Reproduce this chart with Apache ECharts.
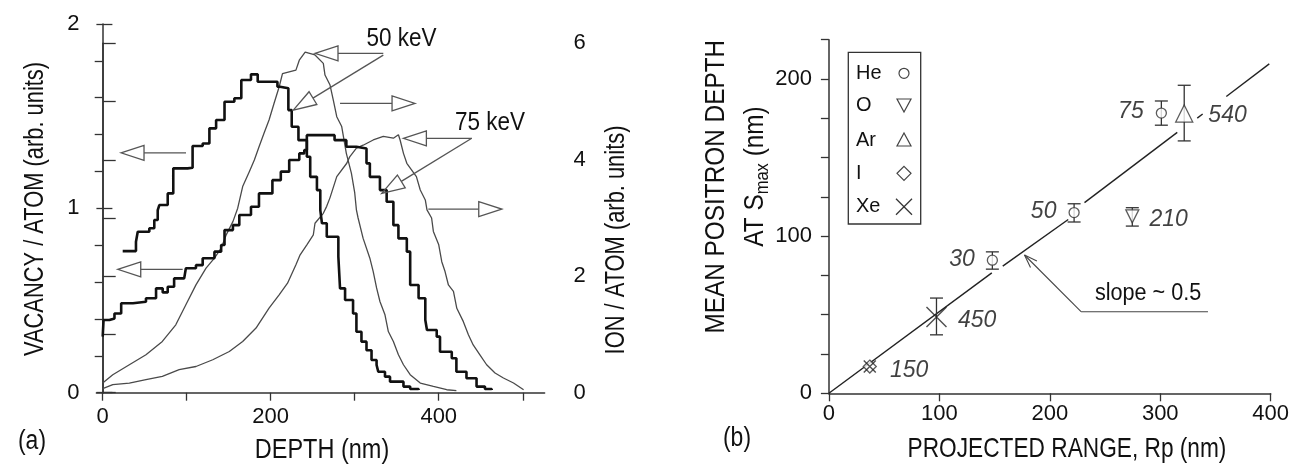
<!DOCTYPE html>
<html><head><meta charset="utf-8">
<script src="https://cdn.jsdelivr.net/npm/echarts@6/dist/echarts.min.js"></script>
<style>html,body{margin:0;padding:0;background:#fff}#c{width:1294px;height:468px}</style>
</head><body><div id="c"></div>
<script>
// ---------- Panel (a): depth profiles ----------
// vacancy / atom (left axis), [depth nm, value]
const vac50 = [[23.8,0.768],[33.7,0.768],[39.6,0.819],[41.7,0.873],[55.5,0.892],[61.4,0.937],[65.5,0.99],[67.4,1.018],[77.4,1.081],[84,1.217],[101,1.22],[107,1.338],[119,1.352],[127,1.434],[135,1.479],[145,1.578],[156.7,1.597],[165,1.696],[176.5,1.727],[184.5,1.687],[208,1.66],[211,1.651],[221,1.533],[225,1.443],[233,1.37],[243,1.28],[247,1.171],[255,1.099],[259,0.99],[261,0.919],[266.7,0.846],[280.5,0.738],[282.5,0.566],[288.5,0.503],[298,0.43],[302,0.331],[308,0.277],[314,0.23],[320,0.177],[326,0.15],[328,0.114],[336,0.087],[342,0.06],[358,0.033],[366,0.02],[376,0.015]];
const vac75 = [[0,0.304],[1,0.394],[8,0.403],[14,0.43],[22,0.485],[36,0.493],[51.5,0.512],[63.5,0.566],[71.4,0.544],[77.4,0.575],[85,0.62],[97,0.629],[99,0.675],[111,0.692],[119,0.729],[133,0.765],[141,0.801],[145,0.882],[155,0.909],[162.6,0.964],[176.5,1.009],[186,1.081],[202,1.153],[212,1.199],[222,1.262],[234,1.298],[240,1.316],[243,1.397],[273,1.397],[276,1.37],[290,1.334],[302,1.325],[314,1.244],[318,1.171],[330,1.099],[338,1.036],[346,0.909],[352,0.837],[362,0.765],[366,0.584],[376,0.512],[384,0.394],[386,0.34],[397.6,0.304],[401.5,0.222],[415.5,0.187],[421,0.114],[433,0.078],[445,0.033],[455,0.02],[463,0.015]];
// ion / atom (right axis)
const ion50 = [[0,0.166],[12,0.309],[31.7,0.48],[51.5,0.652],[71,0.88],[87,1.166],[99,1.51],[111,1.852],[123,2.139],[133,2.31],[141,2.482],[147,2.71],[155,2.938],[160.7,3.168],[166.6,3.54],[174.5,3.796],[180.5,3.997],[186,4.22],[192,4.455],[198,4.683],[204,4.97],[210,5.25],[214,5.48],[230,5.54],[234,5.71],[241,5.85],[252.7,5.8],[262.6,5.655],[264.6,5.455],[270.6,5.283],[274.5,5.026],[278.6,4.74],[284.5,4.57],[290,4.11],[296,3.77],[300,3.43],[302,3.14],[304,3.0],[310,2.65],[318,2.31],[322,2.08],[326,1.8],[330,1.566],[336,1.338],[340,1.05],[346,0.88],[352,0.652],[358,0.48],[366,0.309],[378,0.166],[393.6,0.108],[409.5,0.051],[421,0.034]];
const ion75 = [[0,0.069],[12,0.137],[31.7,0.166],[51.5,0.223],[71,0.28],[91,0.395],[111,0.45],[131,0.566],[150.7,0.708],[166.6,0.88],[182.5,1.11],[198,1.453],[210,1.68],[220,1.88],[230,2.196],[235,2.367],[243,2.54],[250.7,2.71],[252.7,2.91],[262.6,3.08],[266.6,3.2],[270.6,3.35],[278.6,3.71],[290.5,3.94],[294,4.05],[302,4.2],[310,4.25],[322,4.34],[334,4.4],[346,4.37],[352,4.43],[354,4.34],[358,4.11],[362,3.94],[373.4,3.71],[378,3.48],[384,3.31],[386,3.14],[391.5,3.0],[393.6,2.77],[400,2.54],[403.6,2.25],[407.5,2.08],[411.5,1.85],[417.5,1.74],[421.5,1.45],[429.3,1.22],[435.3,0.995],[441,0.82],[449,0.65],[457,0.48],[467,0.338],[477,0.252],[489,0.166],[501,0.051]];
const depthTicks = [0,100,200,300,400,500];
const depthLabels = [0,200,400];
const vacMinorTicks = [0.2,0.4,0.6,0.8,1.2,1.4,1.6,1.8];
const vacMajorTicks = [0,1,2];
const ionTicks = [0,1,2,3,4,5,6];
const ionLabels = [0,2,4,6];

// ---------- Panel (b): mean positron depth vs projected range ----------
const heData = [[148,84.7],[222,115],[301,178.3]];
const heErr  = [[148,79,90],[222,109,120.6],[301,170.6,186]];
const heLabels = ['30','50','75'];
const oData = [[274.7,112.6]];
const oErr  = [[274.7,106.4,118.1]];
const oLabels = ['210'];
const arData = [[321.7,178]];
const arErr  = [[321.7,160.6,196]];
const arLabels = ['540'];
const iData = [[37,17]];
const iLabels = ['150'];
const xeData = [[37,17],[97.4,48.5]];
const xeErr  = [[97.4,37.2,60.6]];
const xeLabels = ['','450'];
const fitSegments = [
  [[0,0],[147.5,76.6]],
  [[157.4,80.9],[216.7,110.6]],
  [[231.4,121.3],[315.4,166]],
  [[333.5,175.1],[338.4,177.7]],
  [[359.8,188.9],[398.7,209.6]]
];
const rangeTicks = [0,100,200,300,400];
const mpdTicks = [0,25,50,75,100,125,150,175,200,225];
const mpdLabels = [0,100,200];
const legendNames = ['He','O','Ar','I','Xe'];

const FONT = "'Liberation Sans', Arial, sans-serif";
const AX = '#333', INK = '#111', THIN = '#4a4a4a';
const chart = echarts.init(document.getElementById('c'), null, {width:1294, height:468});

function errRender(params, api){
  const x=api.value(0), lo=api.value(1), hi=api.value(2);
  const a=api.coord([x,lo]), b=api.coord([x,hi]), w=6.5;
  const st={stroke:'#333', lineWidth:1.3};
  return {type:'group', children:[
    {type:'line', shape:{x1:a[0],y1:a[1],x2:b[0],y2:b[1]}, style:st},
    {type:'line', shape:{x1:a[0]-w,y1:a[1],x2:a[0]+w,y2:a[1]}, style:st},
    {type:'line', shape:{x1:b[0]-w,y1:b[1],x2:b[0]+w,y2:b[1]}, style:st}
  ]};
}
const ptLabel = (arr, pos, dist, off) => ({show:true, position:pos, distance:dist, offset:off||[0,0],
  formatter:p=>arr[p.dataIndex], color:INK, fontFamily:FONT, fontSize:23, fontStyle:'italic'});

const series = [
  {type:'line', xAxisIndex:0, yAxisIndex:0, data:vac50, step:'end', showSymbol:false, lineStyle:{color:INK,width:2.6}, z:3},
  {type:'line', xAxisIndex:0, yAxisIndex:0, data:vac75, step:'end', showSymbol:false, lineStyle:{color:INK,width:2.6}, z:3},
  {type:'line', xAxisIndex:1, yAxisIndex:2, data:ion50, showSymbol:false, lineStyle:{color:THIN,width:1.3}, z:2},
  {type:'line', xAxisIndex:1, yAxisIndex:2, data:ion75, showSymbol:false, lineStyle:{color:THIN,width:1.3}, z:2},
  ...fitSegments.map(seg=>({type:'line', xAxisIndex:2, yAxisIndex:3, data:seg, showSymbol:false, lineStyle:{color:'#222',width:1.4}, z:1})),
  {type:'custom', xAxisIndex:2, yAxisIndex:3, data:[...heErr,...oErr,...arErr,...xeErr], renderItem:errRender, z:2},
  {type:'scatter', name:'He', xAxisIndex:2, yAxisIndex:3, data:heData, symbol:'circle', symbolSize:10,
    itemStyle:{color:'#fff', borderColor:'#333', borderWidth:1.3}, label:ptLabel(heLabels,'left',12,[0,-1]), z:5},
  {type:'scatter', name:'O', xAxisIndex:2, yAxisIndex:3, data:oData, symbol:'triangle', symbolRotate:180, symbolSize:[13,13],
    itemStyle:{color:'#fff', borderColor:'#333', borderWidth:1.3}, label:ptLabel(oLabels,'right',10,[0,3]), z:5},
  {type:'scatter', name:'Ar', xAxisIndex:2, yAxisIndex:3, data:arData, symbol:'triangle', symbolSize:[17,17],
    itemStyle:{color:'#fff', borderColor:'#333', borderWidth:1.3}, label:ptLabel(arLabels,'right',15,[0,2]), z:5},
  {type:'scatter', name:'I', xAxisIndex:2, yAxisIndex:3, data:iData, symbol:'diamond', symbolSize:[13,13],
    itemStyle:{color:'#fff', borderColor:'#333', borderWidth:1.3}, label:ptLabel(iLabels,'right',13,[0,4]), z:5},
  {type:'scatter', name:'Xe', xAxisIndex:2, yAxisIndex:3, data:xeData, symbol:'path://M0,0L10,10M10,0L0,10',
    symbolSize:(v,p)=>p.dataIndex===0?12:20,
    itemStyle:{color:'none', borderColor:'#222', borderWidth:1.4}, label:ptLabel(xeLabels,'right',9,[0,4]), z:6}
];

const tickLbl = (vals, margin) => ({show:true, customValues:vals, margin:margin, color:INK, fontFamily:FONT, fontSize:22});
const option = {
  animation:false,
  backgroundColor:'#fff',
  grid:[
    {left:96.4, top:24, width:448.2, height:368.7},
    {left:96.4, top:43.3, width:448.2, height:349.4},
    {left:828.9, top:39.7, width:441.8, height:353.6}
  ],
  xAxis:[
    {type:'value', gridIndex:0, min:-7.5, max:526, axisLine:{onZero:false, lineStyle:{color:AX,width:1.5}},
      axisTick:{customValues:depthTicks, length:8, lineStyle:{color:AX,width:1.3}}, axisLabel:tickLbl(depthLabels,13), splitLine:{show:false}},
    {type:'value', gridIndex:1, min:-7.5, max:526, show:false},
    {type:'value', gridIndex:2, min:0, max:400, axisLine:{onZero:false, lineStyle:{color:AX,width:1.5}},
      axisTick:{customValues:rangeTicks, length:8, lineStyle:{color:AX,width:1.3}}, axisLabel:tickLbl(rangeTicks,10), splitLine:{show:false}}
  ],
  yAxis:[
    {type:'value', gridIndex:0, min:0, max:2, position:'left', axisLine:{show:true, lineStyle:{color:AX,width:1.5}},
      axisTick:{customValues:vacMinorTicks, length:8, lineStyle:{color:AX,width:1.3}}, axisLabel:{show:false}, splitLine:{show:false}},
    {type:'value', gridIndex:0, min:0, max:2, position:'left', axisLine:{show:false},
      axisTick:{customValues:vacMajorTicks, inside:true, length:16, lineStyle:{color:AX,width:1.3}}, axisLabel:tickLbl(vacMajorTicks,17), splitLine:{show:false}},
    {type:'value', gridIndex:1, min:0, max:6, position:'right', axisLine:{show:true, lineStyle:{color:AX,width:1.5}},
      axisTick:{customValues:ionTicks, length:13, lineStyle:{color:AX,width:1.3}}, axisLabel:tickLbl(ionLabels,29), splitLine:{show:false}},
    {type:'value', gridIndex:2, min:0, max:225, position:'left', axisLine:{onZero:false, show:true, lineStyle:{color:AX,width:1.5}},
      axisTick:{customValues:mpdTicks, length:8, lineStyle:{color:AX,width:1.3}}, axisLabel:tickLbl(mpdLabels,17), splitLine:{show:false}}
  ],
  series
};
chart.setOption(option);

// ---------- annotations ----------
const G = [];
function text(x,y,str,size,o){
  o=o||{};
  G.push({type:'text', x, y, rotation:o.rot||0, scaleX:o.sx||1, z:20,
    style:{text:str, fill:INK, font:(o.italic?'italic ':'')+size+'px '+FONT,
      align:o.align||'center', verticalAlign:'middle', textAlign:o.align||'center', textVerticalAlign:'middle'}});
}
function seg(a,b,col,w){ G.push({type:'line', z:15, shape:{x1:a[0],y1:a[1],x2:b[0],y2:b[1]}, style:{stroke:col||'#555', lineWidth:w||1.3}}); }
function arrow(axes, from, to, kind){
  const p0=chart.convertToPixel(axes, from), p1=chart.convertToPixel(axes, to);
  const dx=p1[0]-p0[0], dy=p1[1]-p0[1], len=Math.hypot(dx,dy), ux=dx/len, uy=dy/len, nx=-uy, ny=ux;
  if(kind==='open'){
    seg(p0,p1,'#444',1.1);
    const L=13, W=4.5, bx=p1[0]-ux*L, by=p1[1]-uy*L;
    seg(p1,[bx+nx*W,by+ny*W],'#444',1.1); seg(p1,[bx-nx*W,by-ny*W],'#444',1.1);
  } else {
    const L=23, W=7.5, bx=p1[0]-ux*L, by=p1[1]-uy*L;
    seg(p0,[bx,by],'#555',1.3);
    G.push({type:'polygon', z:15, shape:{points:[p1,[bx+nx*W,by+ny*W],[bx-nx*W,by-ny*W]]}, style:{fill:'none', stroke:'#555', lineWidth:1.3}});
  }
}
const A = {xAxisIndex:0, yAxisIndex:0}, B = {xAxisIndex:2, yAxisIndex:3};
arrow(A,[99.2,1.301],[21.8,1.301]);
arrow(A,[95.2,0.669],[17.9,0.669]);
arrow(A,[334.0,1.841],[252.7,1.841]);
arrow(A,[334.0,1.831],[226.9,1.533]);
arrow(A,[282.5,1.569],[371.8,1.569]);
arrow(A,[439.3,1.380],[357.9,1.380]);
arrow(A,[439.3,1.380],[332.1,1.081]);
arrow(A,[387.6,0.996],[475,0.996]);
let p=chart.convertToPixel(A,[355.6,1.918]); text(p[0],p[1],'50 keV',25,{sx:0.9});
p=chart.convertToPixel(A,[461.1,1.461]); text(p[0],p[1],'75 keV',25,{sx:0.9});

// slope annotation (panel b)
const s0=chart.convertToPixel(B,[343.2,51.9]), s1=chart.convertToPixel(B,[228.3,51.9]);
seg(s0,s1,'#444',1.1);
arrow(B,[228.3,51.9],[177.1,88.0],'open');
p=chart.convertToPixel(B,[289,63.6]); text(p[0],p[1],'slope ~ 0.5',23,{sx:0.94});

// axis titles and panel tags
text(36,209,'VACANCY / ATOM (arb. units)',27,{rot:Math.PI/2, sx:0.81});
text(617,240,'ION / ATOM (arb. units)',27,{rot:Math.PI/2, sx:0.81});
text(322,451,'DEPTH (nm)',27,{sx:0.87});
text(32,442,'(a)',27,{sx:0.85});
text(716.7,186.7,'MEAN POSITRON DEPTH',28,{rot:Math.PI/2, sx:0.87});
G.push({type:'text', x:755, y:176.5, rotation:Math.PI/2, scaleX:0.87, z:20,
  style:{text:'{n|AT S}{s|max}{n| (nm)}', align:'center', verticalAlign:'middle', textAlign:'center', textVerticalAlign:'middle',
    rich:{n:{fontSize:28, fontFamily:FONT, fill:INK, color:INK, lineHeight:34, verticalAlign:'middle'},
          s:{fontSize:19, fontFamily:FONT, fill:INK, color:INK, lineHeight:19, verticalAlign:'bottom'}}}});
text(1067,449,'PROJECTED RANGE, Rp (nm)',28,{sx:0.81});
text(737,439,'(b)',27,{sx:0.85});

// legend box
G.push({type:'rect', z:15, shape:{x:848.3, y:52.3, width:72.4, height:171.7}, style:{fill:'#fff', stroke:'#333', lineWidth:1.3}});
const ly=[73.3,105,140,173.3,206.7], sx=904;
legendNames.forEach((n,i)=>text(856,ly[i],n,21,{align:'left', sx:0.95}));
const ls={fill:'none', stroke:'#444', lineWidth:1.2};
G.push({type:'circle', z:16, shape:{cx:sx, cy:ly[0], r:5}, style:ls});
G.push({type:'polygon', z:16, shape:{points:[[sx-7,ly[1]-6],[sx+7,ly[1]-6],[sx,ly[1]+7]]}, style:ls});
G.push({type:'polygon', z:16, shape:{points:[[sx-7,ly[2]+6],[sx+7,ly[2]+6],[sx,ly[2]-7]]}, style:ls});
G.push({type:'polygon', z:16, shape:{points:[[sx,ly[3]-7],[sx+7,ly[3]],[sx,ly[3]+7],[sx-7,ly[3]]]}, style:ls});
seg([sx-8,ly[4]-8],[sx+8,ly[4]+8],'#333',1.3); seg([sx-8,ly[4]+8],[sx+8,ly[4]-8],'#333',1.3);

chart.setOption({graphic:G});
</script></body></html>
